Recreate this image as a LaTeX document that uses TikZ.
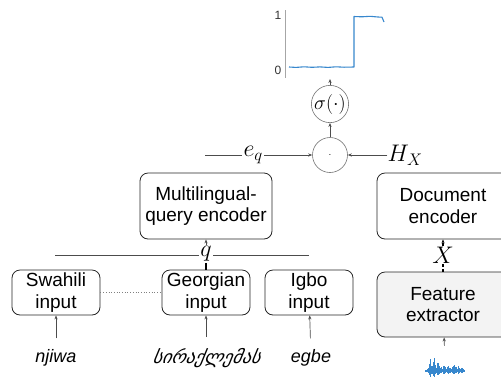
\RequirePackage{fix-cm}
\documentclass[tikz,border=0pt]{standalone}
\usepackage{fontspec}
\setmainfont{Liberation Sans}
\newfontfamily\geofont[FakeSlant=0.2]{DejaVu Sans}
\usetikzlibrary{arrows.meta}
\definecolor{wave}{RGB}{55,135,205}
\definecolor{boxgray}{RGB}{243,243,243}
\tikzset{
  box/.style={draw=black!85, line width=0.8pt, rounded corners=8pt, inner sep=0pt,
    align=center, font=\fontsize{19}{21.5}\selectfont},
  opcircle/.style={circle, draw=black!55, line width=0.6pt, inner sep=0pt},
  link/.style={draw=black!70, line width=0.7pt},
  tip/.style={-{Stealth[length=4pt,width=3.2pt]}},
  mlabel/.style={fill=white, inner sep=1.5pt, font=\fontsize{24}{24}\selectfont},
  word/.style={font=\fontsize{18}{18}\selectfont\itshape, inner sep=2pt},
  ticklabel/.style={font=\fontsize{12}{12}\selectfont, text=black!80, inner sep=0pt}
}
\begin{document}
\begin{tikzpicture}[x=1pt,y=-1pt]
\useasboundingbox (0,0) rectangle (501,376);
\clip (0,0) rectangle (501,376);

% ---- gate output plot ----
\draw[black!35, line width=0.7pt] (285,10) -- (285,78);
\node[ticklabel] (one) at (278,15) {1};
\node[ticklabel] (zero) at (278,70) {0};
\draw[wave, line width=1.1pt, line join=round]
  (289,67) -- (296,67.4) -- (304,66.8) -- (312,67.3) -- (320,66.9) -- (328,67.4)
  -- (336,66.8) -- (344,67.2) -- (354,67) -- (354,16.5) -- (362,16.8) -- (370,16.3)
  -- (378,17) -- (382,17.2) -- (384,22);

% ---- gating operators ----
\node[opcircle, minimum size=36pt, font=\fontsize{20}{20}\selectfont] (sig) at (330,104) {$\sigma(\cdot)$};
\node[opcircle, minimum size=35pt] (dotc) at (330,155) {$\cdot$};
\coordinate (plotbase) at (330,79);
\draw[link, tip] (sig) -- (plotbase);
\draw[link, tip] (dotc) -- (sig);

\coordinate (eqstart) at (205,155);
\draw[link, tip] (eqstart) -- node[mlabel, pos=0.45] (eq) {$e_q$} (dotc);
\node[mlabel, inner sep=0pt] (hx) at (405,155) {$H_X$};
\draw[link, tip] (hx) -- (dotc);

% ---- encoders ----
\node[box, minimum width=132pt, minimum height=66pt] (mqe) at (206,206) {Multilingual-\\query encoder};
\node[box, minimum width=132pt, minimum height=66pt] (doc) at (443,206) {Document\\encoder};
\node[box, fill=boxgray, minimum width=132pt, minimum height=65pt] (feat) at (443,304.5) {Feature\\extractor};

% ---- query inputs ----
\node[box, minimum width=88pt, minimum height=45pt] (swa) at (56,292.5) {Swahili\\input};
\node[box, minimum width=88pt, minimum height=45pt] (geo) at (206,292.5) {Georgian\\input};
\node[box, minimum width=88pt, minimum height=45pt] (igbo) at (309,292.5) {Igbo\\input};

\coordinate (qleft) at (55,255);
\coordinate (qright) at (309,255);
\draw[link] (qleft) -- (qright);
\node[mlabel, inner sep=1pt] (q) at (206,254) {$q$};
\draw[black, line width=1.4pt] (geo) -- (q);
\draw[link, tip] (q) -- (mqe);
\draw[black!50, line width=0.7pt, dotted] (swa) -- (geo);

\node[word] (njiwa) at (56,358) {njiwa};
\node[word] (geow) at (206,358) {\geofont სირაქლემას};
\node[word] (egbe) at (311,358) {egbe};
\draw[link, tip, shorten <=9pt] (njiwa) -- (swa);
\draw[link, tip, shorten <=9pt] (geow) -- (geo);
\draw[link, tip, shorten <=9pt] (egbe) -- (igbo);

% ---- document side ----
\node[mlabel, inner sep=1pt] (xl) at (443,255) {$X$};
\draw[black, line width=1.4pt, dash pattern=on 3pt off 2pt] (feat) -- (xl);
\draw[black, line width=1.4pt, dash pattern=on 3pt off 2pt, tip] (xl) -- (doc);

\node[minimum width=40pt, minimum height=20pt, inner sep=0pt] (wavebox) at (445,364) {};
\foreach \i/\a in {0/1,1/2,2/3,3/7,4/12,5/5,6/9,7/13,8/6,9/3,10/8,11/5,12/3,13/4,
  14/2,15/5,16/4,17/2,18/4,19/5,20/3,21/2,22/4,23/5,24/6,25/4,26/2,27/5,28/3,29/2,30/3,31/2,32/1}
  \draw[wave, line width=1.2pt] ({426+\i*1.2},{371-\a}) -- ({426+\i*1.2},{371+0.5*\a});
\draw[link, tip, shorten <=8pt] (wavebox) -- (feat);
\end{tikzpicture}
\end{document}
